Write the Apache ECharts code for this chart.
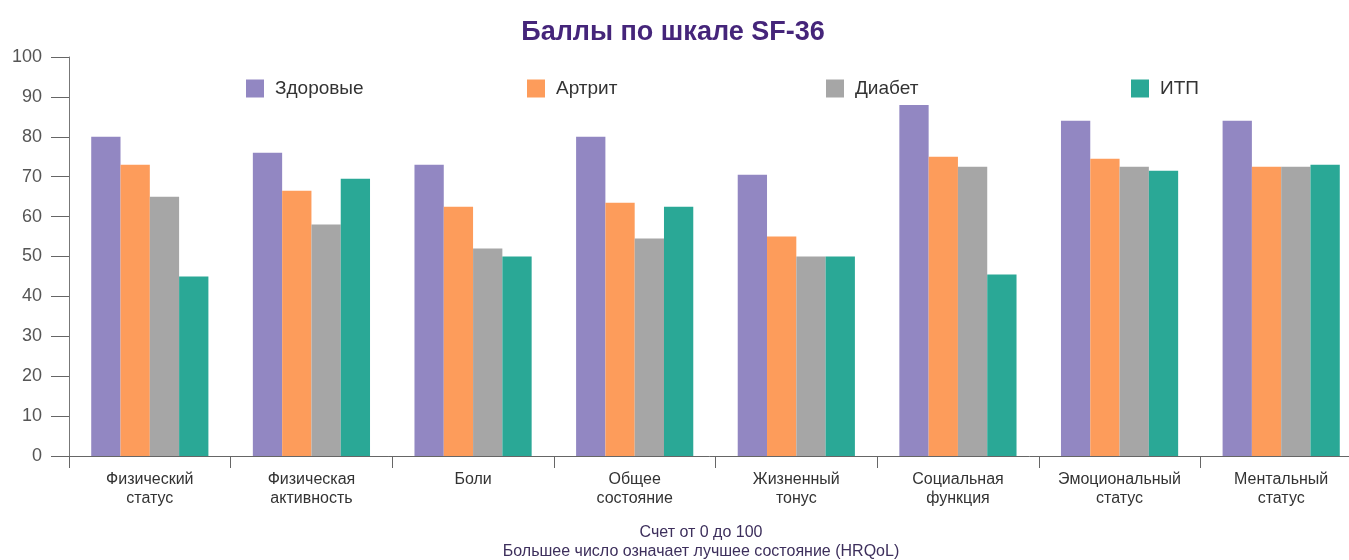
<!DOCTYPE html>
<html>
<head>
<meta charset="utf-8">
<title>Баллы по шкале SF-36</title>
<script src="https://cdn.jsdelivr.net/npm/echarts@6/dist/echarts.min.js"></script>
<style>
    html, body { margin: 0; padding: 0; background: #fff; }
    #chart { width: 1349px; height: 560px; }
</style>
</head>
<body>
<div id="chart"></div>
<script>
// ============================
// 数据
// ============================
const categories = [
    'Физический\nстатус', 'Физическая\nактивность', 'Боли', 'Общее\nсостояние',
    'Жизненный\nтонус', 'Социальная\nфункция', 'Эмоциональный\nстатус', 'Ментальный\nстатус'
];
const seriesNames = ['Здоровые', 'Артрит', 'Диабет', 'ИТП'];
const healthy   = [80, 76, 73, 80, 70.5, 88, 84, 84];
const arthritis = [73, 66.5, 62.5, 63.5, 55, 75, 74.5, 72.5];
const diabetes  = [65, 58, 52, 54.5, 50, 72.5, 72.5, 72.5];
const itp       = [45, 69.5, 50, 62.5, 50, 45.5, 71.5, 73];
const yTicks = { min: 0, max: 100, interval: 10 };

const colors = ['#9287c2', '#fd9c5b', '#a6a6a6', '#2aa896'];
const legendLeft = [246, 527, 826, 1131];

// ============================
// 图表
// ============================
const chart = echarts.init(document.getElementById('chart'));

// 每个图例单独定位
const legends = seriesNames.map((name, i) => ({
    data: [name],
    left: legendLeft[i],
    top: 79,
    padding: 0,
    icon: 'rect',
    itemWidth: 18,
    itemHeight: 18,
    textStyle: { fontSize: 19, color: '#333', fontFamily: 'Liberation Sans', padding: [0, 0, 0, 6] },
    selectedMode: false
}));

const allData = [healthy, arthritis, diabetes, itp];

chart.setOption({
    backgroundColor: '#fff',
    color: colors,
    animation: false,
    title: [
        {
            text: 'Баллы по шкале SF-36',
            left: 668,
            top: 14,
            textAlign: 'center',
            textStyle: { fontSize: 27, fontWeight: 'bold', color: '#45257a', fontFamily: 'Liberation Sans' }
        },
        {
            text: 'Счет от 0 до 100\nБольшее число означает лучшее состояние (HRQoL)',
            left: 701,
            top: 523,
            padding: 0,
            textAlign: 'center',
            textStyle: { fontSize: 16, fontWeight: 'normal', color: '#3d2f5c', lineHeight: 19, fontFamily: 'Liberation Sans' }
        }
    ],
    legend: legends,
    grid: { left: 69, top: 57, width: 1293, height: 399, outerBoundsMode: 'none' },
    xAxis: {
        type: 'category',
        data: categories,
        axisLine: { lineStyle: { color: '#666', width: 1 } },
        axisTick: { show: true, length: 12, lineStyle: { color: '#666' } },
        axisLabel: { fontSize: 16, color: '#333', lineHeight: 19, margin: 14, interval: 0, fontFamily: 'Liberation Sans' },
        splitLine: { show: false }
    },
    yAxis: {
        type: 'value',
        min: yTicks.min,
        max: yTicks.max,
        interval: yTicks.interval,
        axisLine: { show: true, lineStyle: { color: '#777', width: 1 } },
        axisTick: { show: true, length: 18, lineStyle: { color: '#666' } },
        axisLabel: { fontSize: 18, color: '#555', margin: 27, fontFamily: 'Liberation Sans' },
        splitLine: { show: false }
    },
    series: seriesNames.map((name, i) => ({
        name: name,
        type: 'bar',
        data: allData[i],
        barGap: '0%',
        barCategoryGap: '27.5%'
    }))
});
</script>
</body>
</html>
